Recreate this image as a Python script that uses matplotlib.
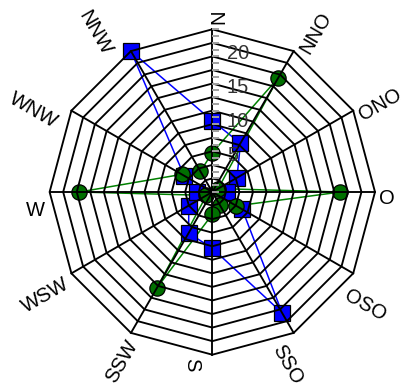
import numpy as np
import matplotlib
matplotlib.use('Agg')
import matplotlib.pyplot as plt
from matplotlib.path import Path

plt.rcParams['font.family'] = ['Liberation Sans', 'DejaVu Sans']

# ---------------- data ----------------
directions = ['N', 'NNO', 'ONO', 'O', 'OSO', 'SSO', 'S', 'SSW', 'WSW', 'W', 'WNW', 'NNW']
blue_values = [10.5, 8.3, 4.2, 2.2, 5.1, 20.6, 8.3, 7.0, 4.0, 2.2, 4.8, 24.0]
green_values = [5.8, 19.4, 1.0, 18.9, 4.1, 2.2, 3.3, 16.3, 1.0, 19.6, 5.2, 3.5]
ring_values = list(range(2, 25, 2))
radial_tick_labels = [5, 10, 15, 20]
minor_tick_values = list(range(0, 25))
r_max = 24

# ---------------- layout (label placement: angle in deg, radius in data units) ----------------
label_layout = [(2.3, 25.8), (33.2, 28.0), (62.6, 27.9), (92.0, 25.8),
                (126.6, 28.1), (156.6, 27.8), (186.7, 25.7), (208.0, 28.3),
                (238.3, 28.9), (264.2, 26.3), (294.6, 29.1), (323.6, 29.1)]

angles_deg = np.arange(len(directions)) * 360.0 / len(directions)
theta = np.deg2rad(angles_deg)
theta_closed = np.append(theta, theta[0])

fig = plt.figure(figsize=(4.01, 3.86), dpi=100)
ax = fig.add_axes([0.1237, 0.0811, 0.8115, 0.843], projection='polar')
ax.set_theta_zero_location('N')
ax.set_theta_direction(-1)
ax.set_ylim(0, r_max)
ax.set_axis_off()

# data lines
ax.plot(theta_closed, np.append(blue_values, blue_values[0]), color='#0000ff',
        lw=1.1, zorder=1, clip_on=False)
ax.plot(theta_closed, np.append(green_values, green_values[0]), color='#008000',
        lw=1.1, zorder=1, clip_on=False)
# markers
ax.plot(theta, blue_values, ls='none', marker='s', ms=11.5, mfc='#0000ff',
        mec='black', mew=0.9, zorder=2, clip_on=False)
ax.plot(theta, green_values, ls='none', marker='o', ms=11, mfc='#007000',
        mec='black', mew=0.9, zorder=2, clip_on=False)

# polygon grid on top
for r in ring_values:
    ax.plot(theta_closed, [r] * len(theta_closed), color='black', lw=1.35,
            zorder=3, clip_on=False, solid_joinstyle='miter')
for t in theta:
    ax.plot([t, t], [0, r_max], color='black', lw=1.35, zorder=3, clip_on=False)

# minor ticks along N axis
tick_marker = Path([(0, 0), (1, 0)])
ax.plot(np.zeros(len(minor_tick_values)), minor_tick_values, ls='none',
        marker=tick_marker, ms=10, mec='#a0a0a0', mew=1.4, zorder=4, clip_on=False)

# radial tick labels
for v in radial_tick_labels:
    ax.annotate(str(v), xy=(0, v), xytext=(10.4, 1.8), textcoords='offset points',
                ha='left', va='center', fontsize=14.5, color='#333333', zorder=5)

# direction labels
for name, a, (la, lr) in zip(directions, angles_deg, label_layout):
    rot = 90 - a
    if rot < -90:
        rot += 180
    ax.text(np.deg2rad(la), lr, name, rotation=rot, ha='center', va='center',
            rotation_mode='anchor', fontsize=14.5, color='black', clip_on=False)

fig.savefig('out.png', dpi=100)
